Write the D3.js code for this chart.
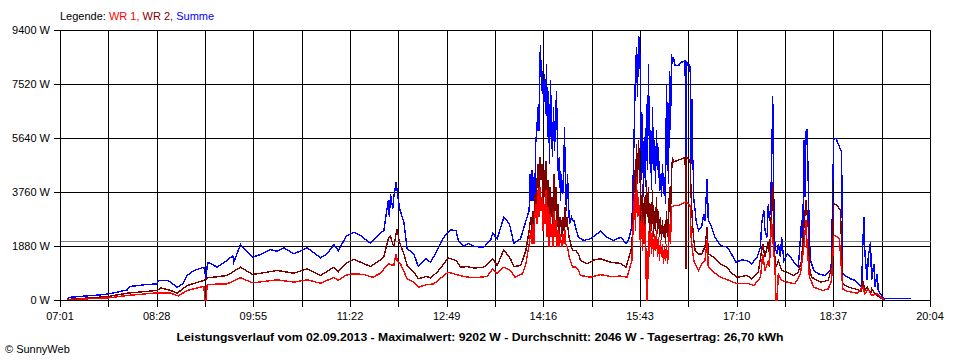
<!DOCTYPE html>
<html>
<head>
<meta charset="utf-8">
<script src="https://cdn.jsdelivr.net/npm/d3@7"></script>
<style>
  body { margin: 0; background: #fff; }
  svg { display: block; font-family: "Liberation Sans", Arial, sans-serif; font-size: 11px; }
</style>
</head>
<body>
<svg id="chart" width="960" height="360"></svg>
<script>
// tick labels
const xTickLabels = ["07:01", "08:28", "09:55", "11:22", "12:49", "14:16", "15:43", "17:10", "18:37", "20:04"];
const yTickValues = [0, 1880, 3760, 5640, 7520, 9400];
const averageWatt = 2046;

const legendItems = [
    { label: "WR 1, ", color: "#ff0000" },
    { label: "WR 2, ", color: "#800000" },
    { label: "Summe", color: "#0000ff" }
];
const title = "Leistungsverlauf vom 02.09.2013 - Maximalwert: 9202 W - Durchschnitt: 2046 W - Tagesertrag: 26,70 kWh";

// [time, watt]
const summe = [
    ["07:07", 20], ["07:09", 110], ["07:18", 140], ["07:28", 170], ["07:37", 195], ["07:44", 230], ["07:53", 300],
    ["08:01", 370], ["08:04", 490], ["08:16", 545], ["08:28", 580], ["08:29", 700], ["08:37", 700], ["08:40", 640],
    ["08:46", 465], ["08:51", 580], ["08:55", 870], ["09:01", 1045], ["09:10", 1160], ["09:12", 755], ["09:13", 1200],
    ["09:14", 1330], ["09:22", 1160], ["09:31", 1390], ["09:36", 1566], ["09:37", 1333], ["09:43", 1950], ["09:54", 1508],
    ["10:01", 1600], ["10:10", 1775], ["10:16", 1710], ["10:22", 1834], ["10:31", 1624], ["10:43", 1834], ["10:55", 1486],
    ["11:01", 1624], ["11:07", 1950], ["11:11", 1740], ["11:18", 2228], ["11:25", 2378], ["11:31", 2260], ["11:40", 1995],
    ["11:46", 2250], ["11:52", 2436], ["11:56", 3480], ["11:57", 2900], ["11:58", 3714], ["12:00", 3200], ["12:01", 3600],
    ["12:03", 4118], ["12:04", 3830], ["12:06", 3226], ["12:10", 2726], ["12:13", 1800], ["12:19", 1625], ["12:23", 1183],
    ["12:30", 1450], ["12:34", 1333], ["12:40", 1740], ["12:46", 2200], ["12:52", 2460], ["12:57", 2436], ["12:59", 2090],
    ["13:04", 1880], ["13:08", 1995], ["13:13", 1880], ["13:22", 1856], ["13:28", 2090], ["13:30", 2343], ["13:34", 2150],
    ["13:40", 2900], ["13:45", 2670], ["13:49", 1995], ["13:55", 2150], ["14:00", 2785],
    ["14:02:48", 3130], ["14:03:24", 4420], ["14:04:18", 3480], ["14:05:12", 4530], ["14:06:06", 3480], ["14:07:00", 4290],
    ["14:07:54", 3714], ["14:08:48", 5570], ["14:09:42", 5900], ["14:10:36", 6730], ["14:11:30", 5900], ["14:12:24", 8350],
    ["14:13:00", 8877], ["14:13:54", 7310], ["14:14:48", 8000], ["14:15:42", 6850], ["14:16:36", 7890], ["14:17:30", 6500],
    ["14:18:24", 8240], ["14:19:18", 5690], ["14:20:12", 7310], ["14:21:06", 4760], ["14:22:00", 7660], ["14:22:54", 6030],
    ["14:23:48", 4990], ["14:24:42", 6730], ["14:25:36", 5220], ["14:26:30", 6150], ["14:27:24", 7310], ["14:28:18", 5340],
    ["14:29:12", 4180], ["14:30:06", 4990], ["14:31:00", 3480], ["14:31:54", 4410], ["14:32:48", 3714], ["14:33:42", 3830],
    ["14:34:36", 6030], ["14:35:30", 3830], ["14:36:24", 3130], ["14:37:18", 4410], ["14:38:12", 3370], ["14:39:06", 2670],
    ["14:40:54", 2900], ["14:41:48", 2785], ["14:43", 2785], ["14:47", 2200], ["14:52", 2090],
    ["14:58", 2150], ["15:04", 2320], ["15:07", 2436], ["15:13", 2200], ["15:19", 2090], ["15:25", 2200], ["15:30", 1995],
    ["15:32", 2090], ["15:35:12", 2550],
    ["15:36:42", 4760], ["15:37:36", 6500], ["15:38:30", 7890], ["15:39:24", 8820], ["15:40:18", 7080], ["15:41:12", 9202],
    ["15:42:06", 9050], ["15:43:00", 7660], ["15:43:54", 4180], ["15:44:48", 6500], ["15:45:42", 3600], ["15:46:36", 5690],
    ["15:47:30", 3950], ["15:48:24", 6850], ["15:49:18", 4530], ["15:50:12", 8240], ["15:51:06", 4760], ["15:52:00", 5920],
    ["15:52:54", 3830], ["15:53:48", 6730], ["15:54:42", 4530], ["15:55:36", 5570], ["15:56:30", 4060], ["15:57:24", 5920],
    ["15:58:18", 4530], ["15:59:12", 5340], ["16:00:06", 3830], ["16:01:00", 4410], ["16:01:54", 3600], ["16:02:48", 4760],
    ["16:03:42", 3710], ["16:04:36", 4290], ["16:05:30", 3370], ["16:06:24", 7540], ["16:07:18", 5570], ["16:08:12", 4060],
    ["16:09:06", 8000], ["16:10:00", 5920], ["16:10:54", 8590], ["16:11:48", 8240], ["16:12:42", 8470], ["16:14:12", 8180],
    ["16:17:12", 8180], ["16:20:12", 8300], ["16:23:12", 8350], ["16:23:48", 1200], ["16:24:42", 8300], ["16:26:12", 8240],
    ["16:27:42", 8120], ["16:28:36", 4760], ["16:29:12", 7000], ["16:29:48", 4530], ["16:30:30", 4900], ["16:31:00", 3500],
    ["16:32:12", 3130], ["16:33:00", 2785], ["16:35:12", 2436],
    ["16:38", 2550], ["16:40", 3020], ["16:41", 2785], ["16:43", 4235], ["16:44", 2785],
    ["16:46", 2670], ["16:50", 2200], ["16:55", 1915], ["17:01", 1856], ["17:04", 1680], ["17:09", 1333], ["17:14", 1415],
    ["17:19", 1390], ["17:23", 1275], ["17:28", 1510], ["17:31", 1855], ["17:32", 2670], ["17:34", 3130], ["17:35", 2436],
    ["17:37", 2200], ["17:38", 3370], ["17:39", 2785], ["17:40", 3250], ["17:41", 4640], ["17:42", 7135], ["17:43", 3480],
    ["17:44", 1855], ["17:46", 1620], ["17:47", 1970], ["17:49", 1510], ["17:50", 2200], ["17:52", 1390], ["17:55", 1620],
    ["17:58", 1510], ["18:02", 1275], ["18:05", 1160], ["18:07", 2200], ["18:08", 2785], ["18:09", 1620], ["18:10", 5570],
    ["18:11", 3600], ["18:12", 5900], ["18:13", 5975], ["18:14", 4060], ["18:15", 2200], ["18:16", 1390], ["18:19", 1045],
    ["18:23", 930], ["18:29", 870], ["18:34", 1045], ["18:35", 1390], ["18:36", 4060], ["18:37", 5630], ["18:39", 5630],
    ["18:41", 5450], ["18:44", 5160], ["18:45", 930], ["18:47", 870], ["18:52", 755], ["18:56", 700], ["18:59", 570],
    ["19:02", 465], ["19:03", 1855], ["19:04", 2900], ["19:05", 1620], ["19:07", 700], ["19:08", 1510], ["19:10", 2030],
    ["19:11", 700], ["19:13", 1275], ["19:14", 465], ["19:16", 930], ["19:17", 345], ["19:19", 230], ["19:22", 58],
    ["19:25", 60], ["19:46", 60]
];

const wr2 = [
    ["07:07", 35], ["07:20", 70], ["07:32", 105], ["07:44", 140], ["08:01", 255], ["08:28", 350], ["08:31", 440],
    ["08:40", 350], ["08:46", 255], ["08:55", 520], ["09:10", 700], ["09:14", 790], ["09:31", 870], ["09:43", 1160],
    ["09:54", 905], ["10:16", 1045], ["10:31", 950], ["10:43", 1100], ["10:55", 870], ["11:07", 1160], ["11:11", 1000],
    ["11:18", 1300], ["11:25", 1440], ["11:31", 1333], ["11:40", 1183], ["11:46", 1333], ["11:52", 1510], ["11:56", 2150],
    ["11:58", 2230], ["12:01", 1860], ["12:03", 2320], ["12:04", 2480], ["12:06", 2030], ["12:10", 1625], ["12:13", 1220],
    ["12:19", 985], ["12:23", 755], ["12:30", 835], ["12:34", 790], ["12:40", 985], ["12:46", 1275], ["12:50", 1480],
    ["12:57", 1390], ["13:01", 1160], ["13:07", 1180], ["13:13", 1130], ["13:22", 1160], ["13:30", 1450], ["13:34", 1220],
    ["13:40", 1765], ["13:46", 1450], ["13:49", 1180], ["13:55", 1220],
    ["13:56:48", 1390], ["13:59:48", 1740], ["14:02:48", 2436], ["14:04:18", 2900], ["14:05:12", 2436], ["14:06:06", 3130],
    ["14:07:00", 2670], ["14:07:54", 3714], ["14:08:48", 2900], ["14:09:42", 3950], ["14:10:36", 4760], ["14:11:30", 3600],
    ["14:12:24", 4990], ["14:13:18", 4180], ["14:14:12", 4760], ["14:15:06", 3250], ["14:16:00", 4530], ["14:16:54", 3600],
    ["14:17:48", 4870], ["14:18:42", 2900], ["14:19:36", 4180], ["14:20:30", 2436], ["14:21:24", 3950], ["14:22:18", 2900],
    ["14:23:12", 3600], ["14:24:06", 2436], ["14:25:00", 4410], ["14:25:54", 3130], ["14:26:48", 3950], ["14:27:42", 2550],
    ["14:28:36", 3370], ["14:29:30", 2200], ["14:30:24", 2900], ["14:31:18", 2785], ["14:32:12", 2200], ["14:33:06", 2900],
    ["14:34:00", 2436], ["14:34:54", 3250], ["14:35:48", 2550], ["14:36:42", 2900], ["14:37:36", 2550], ["14:38:48", 2200],
    ["14:40:18", 1970], ["14:41:48", 1740], ["14:44:48", 1740], ["14:47:12", 1620],
    ["14:49", 1390], ["14:55", 1275], ["15:01", 1410], ["15:07", 1450], ["15:16", 1333],
    ["15:25", 1290], ["15:30", 1160], ["15:35:12", 1860],
    ["15:36:42", 3370], ["15:37:36", 4530], ["15:38:30", 3714], ["15:39:24", 5450], ["15:40:18", 4060], ["15:41:12", 5570],
    ["15:42:06", 4760], ["15:43:00", 3830], ["15:43:54", 2670], ["15:44:48", 4060], ["15:45:42", 1970], ["15:46:36", 3600],
    ["15:47:30", 2436], ["15:48:24", 4180], ["15:49:18", 2900], ["15:50:12", 3950], ["15:51:06", 2200], ["15:52:00", 3370],
    ["15:52:54", 2436], ["15:53:48", 3830], ["15:54:42", 2200], ["15:55:36", 3130], ["15:56:30", 2436], ["15:57:24", 3600],
    ["15:58:18", 2320], ["15:59:12", 3130], ["16:00:06", 2200], ["16:01:00", 2900], ["16:01:54", 2090], ["16:02:48", 2785],
    ["16:03:42", 2200], ["16:04:36", 2670], ["16:05:30", 1970], ["16:06:24", 3130], ["16:07:18", 2200], ["16:08:12", 2670],
    ["16:09:06", 3950], ["16:10:00", 2900], ["16:10:54", 4410], ["16:11:48", 4990], ["16:12:42", 4820], ["16:15:42", 4870],
    ["16:20:12", 4930], ["16:23:12", 4990], ["16:23:48", 1100], ["16:24:42", 4990], ["16:26:12", 4930], ["16:27:42", 4870],
    ["16:28:36", 3600], ["16:29:48", 2670], ["16:31:00", 2090], ["16:32:12", 1740], ["16:35:12", 1620],
    ["16:38", 1620], ["16:41", 1860],
    ["16:43", 2550], ["16:44", 1620], ["16:49", 1510], ["16:55", 1275], ["17:01", 1160], ["17:04", 985], ["17:10", 810],
    ["17:19", 870], ["17:23", 755], ["17:29", 985], ["17:33", 1970], ["17:35", 1510], ["17:38", 2030], ["17:39", 1620],
    ["17:40", 2320], ["17:42", 4118], ["17:43", 1855], ["17:45", 1160], ["17:47", 1390], ["17:50", 1045], ["17:55", 985],
    ["18:01", 870], ["18:05", 985], ["18:08", 1390], ["18:10", 2550], ["18:12", 3480], ["18:14", 2550], ["18:15", 1160],
    ["18:17", 810], ["18:25", 640], ["18:32", 700], ["18:35", 1160], ["18:37", 3390], ["18:40", 3300], ["18:43", 3130],
    ["18:45", 580], ["18:50", 465], ["18:56", 405], ["19:02", 325], ["19:03", 700], ["19:05", 345], ["19:07", 465],
    ["19:10", 230], ["19:11", 405], ["19:14", 230], ["19:17", 140], ["19:20", 60], ["19:23", 25]
];

const wr1 = [
    ["07:07", 25], ["07:20", 50], ["07:32", 70], ["07:44", 90], ["08:01", 175], ["08:28", 265], ["08:40", 255],
    ["08:47", 160], ["08:55", 350], ["09:10", 490], ["09:11", 0], ["09:12", 0], ["09:13", 540], ["09:14", 560],
    ["09:31", 580], ["09:43", 790], ["09:54", 615], ["10:16", 720], ["10:31", 640], ["10:43", 720], ["10:55", 600],
    ["11:07", 800], ["11:11", 700], ["11:18", 880], ["11:25", 930], ["11:34", 905], ["11:42", 810], ["11:49", 950],
    ["11:56", 1275], ["12:01", 1220], ["12:03", 1625], ["12:04", 1390], ["12:07", 1275], ["12:13", 755], ["12:19", 640],
    ["12:23", 465], ["12:30", 545], ["12:37", 580], ["12:46", 870], ["12:50", 985], ["12:57", 905], ["13:04", 835],
    ["13:13", 790], ["13:25", 835], ["13:30", 1100], ["13:34", 930], ["13:40", 1160], ["13:46", 1045], ["13:50", 810],
    ["13:56:48", 930], ["13:59:48", 1275], ["14:02:48", 1970], ["14:04:18", 2436], ["14:05:12", 1970], ["14:06:06", 2670],
    ["14:07:00", 1970], ["14:07:54", 2900], ["14:08:48", 3370], ["14:09:42", 2670], ["14:10:36", 3830], ["14:11:30", 2900],
    ["14:12:24", 3950], ["14:13:18", 3130], ["14:14:12", 3600], ["14:15:06", 2436], ["14:16:00", 3370], ["14:16:54", 2670],
    ["14:17:48", 3830], ["14:18:42", 2200], ["14:19:36", 3250], ["14:20:30", 1860], ["14:21:24", 3020], ["14:22:18", 2200],
    ["14:23:12", 2670], ["14:24:06", 1860], ["14:25:00", 3130], ["14:25:54", 2200], ["14:26:48", 2785], ["14:27:42", 1860],
    ["14:28:36", 2436], ["14:29:30", 1860], ["14:30:24", 2320], ["14:31:18", 2090], ["14:32:12", 1860], ["14:33:06", 2320],
    ["14:34:00", 1970], ["14:34:54", 2436], ["14:35:48", 1970], ["14:37:18", 1860], ["14:38:48", 1508], ["14:41:48", 1160],
    ["14:44:48", 1160], ["14:47:12", 1045],
    ["14:49", 870], ["14:58", 810], ["15:07", 900], ["15:16", 835], ["15:25", 850], ["15:31", 810], ["15:35:12", 1390],
    ["15:36:42", 2900], ["15:37:36", 3714], ["15:38:30", 2436], ["15:39:24", 4290], ["15:40:18", 2900], ["15:41:12", 3600],
    ["15:42:06", 2670], ["15:43:00", 1860], ["15:43:54", 3130], ["15:44:48", 1740], ["15:45:42", 2900], ["15:46:36", 1970],
    ["15:47:30", 2670], ["15:48:24", 0], ["15:49:18", 0], ["15:50:12", 2436], ["15:51:06", 1508], ["15:52:00", 2670],
    ["15:52:54", 1620], ["15:53:48", 2436], ["15:54:42", 1508], ["15:55:36", 2320], ["15:56:30", 1740], ["15:57:24", 2436],
    ["15:58:18", 1508], ["15:59:12", 2200], ["16:00:06", 1390], ["16:01:00", 2090], ["16:01:54", 1508], ["16:02:48", 1970],
    ["16:03:42", 1275], ["16:04:36", 1860], ["16:05:30", 1390], ["16:06:24", 1970], ["16:07:18", 1275], ["16:08:12", 1740],
    ["16:09:06", 2670], ["16:10:00", 1970], ["16:10:54", 3250], ["16:12:42", 3300], ["16:17:12", 3300], ["16:20:12", 3370],
    ["16:23:12", 3430], ["16:26:12", 3370], ["16:27:42", 3300], ["16:28:36", 2200], ["16:29:48", 1740], ["16:31:00", 1390],
    ["16:32:12", 1275], ["16:35:12", 1045],
    ["16:38", 1275], ["16:41", 1390], ["16:43", 2090], ["16:44", 1160], ["16:49", 985], ["16:55", 810], ["17:04", 680],
    ["17:10", 580], ["17:19", 600], ["17:25", 520], ["17:31", 810], ["17:33", 1620], ["17:35", 1045], ["17:38", 1390],
    ["17:39", 1160], ["17:41", 2785], ["17:42", 2200], ["17:44", 1160], ["17:45", 0], ["17:46", 0], ["17:47", 930],
    ["17:50", 700], ["17:55", 640], ["18:02", 580], ["18:07", 930], ["18:10", 1855], ["18:12", 2785], ["18:13", 1855],
    ["18:15", 810], ["18:19", 465], ["18:27", 345], ["18:32", 405], ["18:35", 700], ["18:37", 2260], ["18:40", 2230],
    ["18:42", 2150], ["18:45", 405], ["18:49", 325], ["18:58", 255], ["19:03", 465], ["19:05", 230], ["19:08", 405],
    ["19:11", 175], ["19:16", 230], ["19:19", 115], ["19:22", 35]
];

// minutes since midnight, "HH:MM" or "HH:MM:SS"
const toMin = s => {
    const [h, m, sec = 0] = s.split(":").map(Number);
    return h * 60 + m + sec / 60;
};

const svg = d3.select("#chart");
const plot = { left: 60, right: 930, top: 30, bottom: 300 };

const tStart = toMin(xTickLabels[0]);
const tEnd = toMin(xTickLabels[xTickLabels.length - 1]);

const x = d3.scaleLinear().domain([tStart, tEnd]).range([plot.left, plot.right]);
const y = d3.scaleLinear().domain([0, 9400]).range([plot.bottom, plot.top]);

// grid lines every half tick interval
const step = (tEnd - tStart) / 18;
const gridTimes = d3.range(19).map(i => tStart + i * step);

const grid = svg.append("g")
    .attr("transform", "translate(0.5,0.5)")
    .attr("stroke", "#000")
    .attr("stroke-width", 1)
    .attr("shape-rendering", "crispEdges");

grid.selectAll("line.v").data(gridTimes).join("line")
    .attr("class", "v")
    .attr("x1", d => Math.round(x(d)))
    .attr("x2", d => Math.round(x(d)))
    .attr("y1", plot.top)
    .attr("y2", plot.bottom + 6);

grid.selectAll("line.h").data(yTickValues).join("line")
    .attr("class", "h")
    .attr("x1", plot.left - 7)
    .attr("x2", plot.right)
    .attr("y1", d => Math.round(y(d)))
    .attr("y2", d => Math.round(y(d)));

// average line
svg.append("line")
    .attr("transform", "translate(0.5,0.5)")
    .attr("shape-rendering", "crispEdges")
    .attr("stroke", "#808080")
    .attr("x1", plot.left)
    .attr("x2", plot.right)
    .attr("y1", Math.round(y(averageWatt)))
    .attr("y2", Math.round(y(averageWatt)));

// axis labels
svg.append("g").selectAll("text").data(yTickValues).join("text")
    .attr("x", 50)
    .attr("y", d => y(d))
    .attr("dy", "0.36em")
    .attr("text-anchor", "end")
    .attr("fill", "#000")
    .text(d => d + " W");

svg.append("g").selectAll("text").data(xTickLabels).join("text")
    .attr("x", d => x(toMin(d)))
    .attr("y", 320)
    .attr("text-anchor", "middle")
    .attr("fill", "#000")
    .text(d => d);

// series: Summe below, WR 1 on top
const line = d3.line()
    .x(d => x(toMin(d[0])))
    .y(d => y(d[1]));

const series = [
    { data: summe, color: "#0000ff" },
    { data: wr2, color: "#800000" },
    { data: wr1, color: "#ff0000" }
];

svg.append("g")
    .attr("transform", "translate(0.5,0.5)")
    .selectAll("path").data(series).join("path")
    .attr("d", d => line(d.data))
    .attr("fill", "none")
    .attr("stroke", d => d.color)
    .attr("stroke-width", 1.4)
    .attr("stroke-linejoin", "miter")
    .attr("shape-rendering", "crispEdges");

// legend
const legend = svg.append("text")
    .attr("x", 60)
    .attr("y", 20)
    .attr("fill", "#000")
    .text("Legende: ");
legend.selectAll("tspan.item").data(legendItems).join("tspan")
    .attr("class", "item")
    .attr("fill", d => d.color)
    .text(d => d.label);

// title & credit
svg.append("text")
    .attr("x", 480)
    .attr("y", 341)
    .attr("text-anchor", "middle")
    .attr("font-weight", "bold")
    .attr("font-size", "11.5px")
    .attr("textLength", 607)
    .attr("lengthAdjust", "spacingAndGlyphs")
    .attr("fill", "#000")
    .text(title);

svg.append("text")
    .attr("x", 5)
    .attr("y", 353)
    .attr("fill", "#000")
    .text("\u00a9 SunnyWeb");
</script>
</body>
</html>
